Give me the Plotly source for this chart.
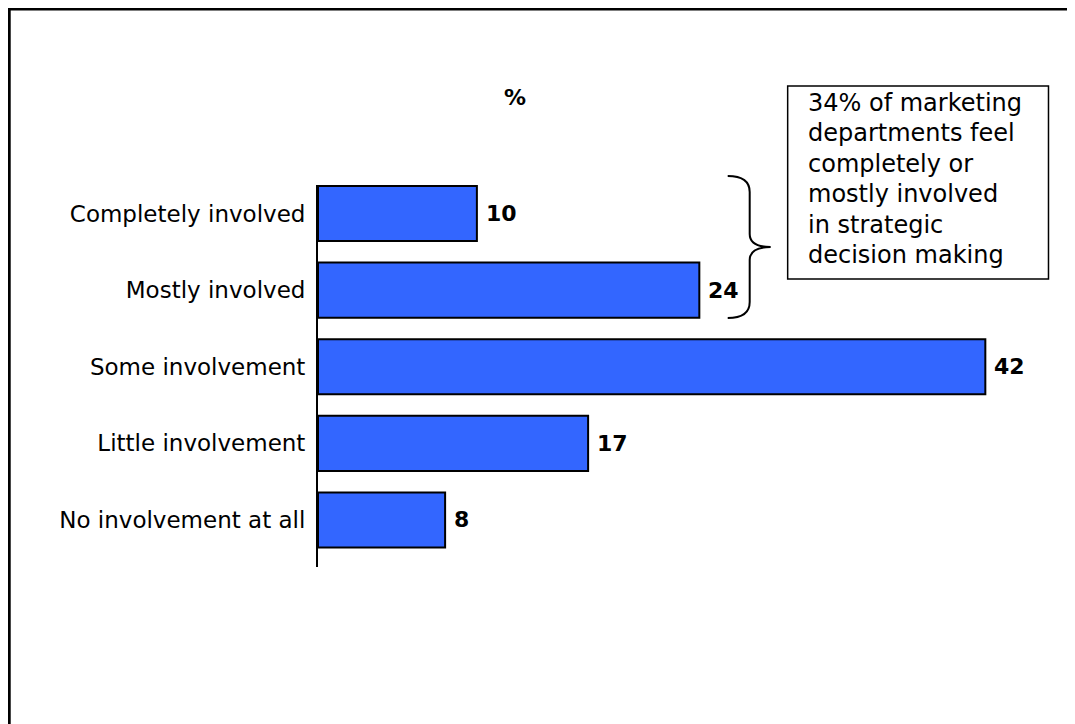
import plotly.graph_objects as go

categories = ["Completely involved", "Mostly involved", "Some involvement",
              "Little involvement", "No involvement at all"]
values = [10, 24, 42, 17, 8]
box_lines = ["34% of marketing", "departments feel", "completely or",
             "mostly involved", "in strategic", "decision making"]
unit_label = "%"

OFF = 8  # page body margin
W, H = 1075 - OFF, 724 - OFF
L, T = 318 - OFF, 185 - OFF
X_MAX = 45
PW = X_MAX * 15.9
R = W - L - PW
Y_LO, Y_HI = -0.372, 4.614
PH = (Y_HI - Y_LO) * 76.6
B = H - T - PH

def px(x):
    return (x - OFF - L) / PW

def py(y):
    return 1 - (y - OFF - T) / PH

FONT = "DejaVu Sans, Verdana, sans-serif"

ypos = list(range(len(categories)))

fig = go.Figure()
fig.add_trace(go.Bar(
    x=values, y=ypos, orientation="h", width=0.72,
    marker=dict(color="#3366FF", line=dict(color="black", width=2)),
    hoverinfo="skip",
))

annotations = []
for v, y in zip(values, ypos):
    annotations.append(dict(
        x=v, y=y, xref="x", yref="y", text=f"<b>{v}</b>", showarrow=False,
        xanchor="left", xshift=7, font=dict(family=FONT, size=22, color="black"),
    ))

annotations.append(dict(
    x=px(515), y=py(98), xref="paper", yref="paper", text=f"<b>{unit_label}</b>",
    showarrow=False, xanchor="center", yanchor="middle",
    font=dict(family=FONT, size=22, color="black"),
))

for i, line in enumerate(box_lines):
    annotations.append(dict(
        x=px(806), y=py(103 + i * 30.4), xref="paper", yref="paper", text=line,
        showarrow=False, xanchor="left", yanchor="middle",
        font=dict(family=FONT, size=24, color="black"),
    ))

shapes = []
# text box
shapes.append(dict(type="rect", xref="paper", yref="paper",
                   x0=px(788), x1=px(1049), y0=py(86), y1=py(279),
                   line=dict(color="black", width=1.5), fillcolor="white", layer="below"))

# brace
pts = [(728, 176), (750, 176), (750, 192), (750, 234), (750, 247), (771, 247),
       (750, 247), (750, 260), (750, 302), (750, 318), (728, 318)]
P = [f"{px(a):.5f},{py(b):.5f}" for a, b in pts]
path = (f"M {P[0]} Q {P[1]} {P[2]} L {P[3]} Q {P[4]} {P[5]} "
        f"Q {P[6]} {P[7]} L {P[8]} Q {P[9]} {P[10]}")
shapes.append(dict(type="path", xref="paper", yref="paper", path=path,
                   line=dict(color="black", width=2)))

# frame lines (top and left)
shapes.append(dict(type="line", xref="paper", yref="paper",
                   x0=px(8), x1=px(1075 + 5), y0=py(9), y1=py(9),
                   line=dict(color="black", width=3)))
shapes.append(dict(type="line", xref="paper", yref="paper",
                   x0=px(9), x1=px(9), y0=py(8), y1=py(724 + 5),
                   line=dict(color="black", width=3)))

fig.update_layout(
    width=W, height=H,
    margin=dict(l=L, r=R, t=T, b=B, pad=0),
    paper_bgcolor="white", plot_bgcolor="white",
    showlegend=False,
    xaxis=dict(range=[0, X_MAX], visible=False, fixedrange=True),
    yaxis=dict(range=[Y_HI, Y_LO], tickmode="array", tickvals=ypos,
               ticktext=categories, showline=True, linecolor="black", linewidth=2,
               showgrid=False, zeroline=False, ticks="", ticklabelstandoff=6,
               tickfont=dict(family=FONT, size=23, color="black"), fixedrange=True),
    annotations=annotations, shapes=shapes,
)

fig.write_html("out.html", config={"displayModeBar": False})
